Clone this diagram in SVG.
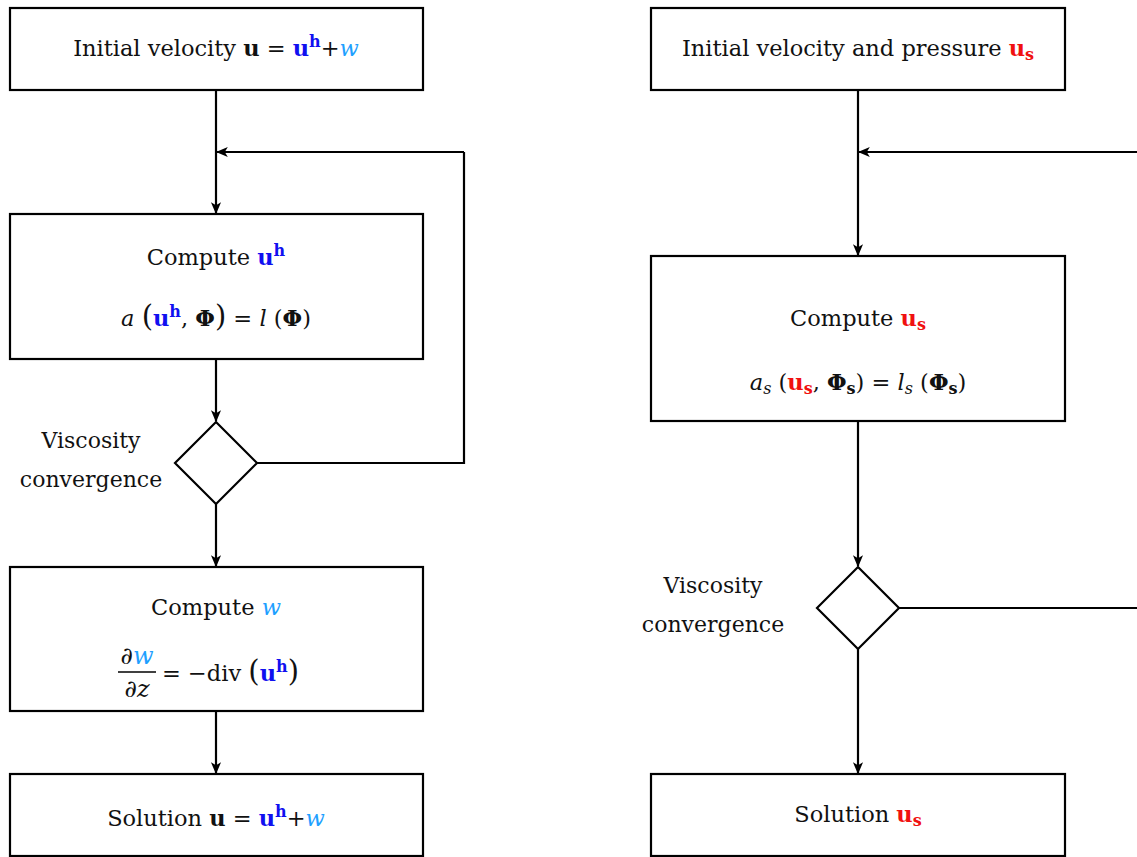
<svg xmlns="http://www.w3.org/2000/svg" width="1137" height="857" viewBox="0 0 1137 857" font-family="'DejaVu Serif', serif">
<defs>
<marker id="arr" viewBox="0 0 10 10" refX="9" refY="5" markerWidth="12" markerHeight="12" markerUnits="userSpaceOnUse" orient="auto">
<path d="M0,0.8 L10,5 L0,9.2 L2.5,5 Z" fill="#000"/>
</marker>
<style>
.box{fill:#fff;stroke:#000;stroke-width:2.2}
.dia{fill:#fff;stroke:#000;stroke-width:2.2}
.ln{fill:none;stroke:#000;stroke-width:2.2}
.ar{fill:none;stroke:#000;stroke-width:2.2;marker-end:url(#arr)}
text{font-family:'DejaVu Serif',serif;font-size:22.5px;fill:#111}
.lab{font-size:22px}
.b{font-weight:bold}
.i{font-style:italic}
.blue{fill:#1010f0}
.lb{fill:#1ea0ff}
.red{fill:#f01010}
.sm{font-size:16px}
.big{font-size:29px}
.fr{font-size:24px}
</style>
</defs>
<rect width="1137" height="857" fill="#fff"/>
<g id="connectors">
<path class="ar" d="M216,90 V213"/>
<path class="ar" d="M216,359 V421"/>
<path class="ar" d="M216,504 V566"/>
<path class="ar" d="M216,711 V773"/>
<path class="ln" d="M257,463 H464 V152"/>
<path class="ar" d="M464,152 H217"/>
<path class="ar" d="M858,90 V255"/>
<path class="ar" d="M858,421 V566"/>
<path class="ar" d="M858,649 V773"/>
<path class="ln" d="M899,608 H1140"/>
<path class="ar" d="M1140,152 H859"/>
</g>
<g id="l-init">
<rect class="box" x="10" y="8" width="413" height="82"/>
<text x="216" y="56" text-anchor="middle">Initial velocity <tspan class="b">u</tspan> = <tspan class="b blue">u</tspan><tspan class="b blue sm" dy="-9">h</tspan><tspan dy="9">+</tspan><tspan class="i lb">w</tspan></text>
</g>
<g id="l-compute-uh">
<rect class="box" x="10" y="214" width="413" height="145"/>
<text x="216" y="265" text-anchor="middle">Compute <tspan class="b blue">u</tspan><tspan class="b blue sm" dy="-9">h</tspan></text>
<text x="216" y="326" text-anchor="middle"><tspan class="i">a</tspan> <tspan class="big">(</tspan><tspan class="b blue">u</tspan><tspan class="b blue sm" dy="-9">h</tspan><tspan dy="9">, </tspan><tspan class="b">Φ</tspan><tspan class="big">)</tspan> = <tspan class="i">l</tspan> (<tspan class="b">Φ</tspan>)</text>
</g>
<g id="l-visc">
<polygon class="dia" points="216,422 257,463 216,504 175,463"/>
<text class="lab" x="91" y="448" text-anchor="middle">Viscosity</text>
<text class="lab" x="91" y="487" text-anchor="middle">convergence</text>
</g>
<g id="l-compute-w">
<rect class="box" x="10" y="567" width="413" height="144"/>
<text x="216" y="615" text-anchor="middle">Compute <tspan class="i lb">w</tspan></text>
<text class="fr" x="137" y="664" text-anchor="middle">∂<tspan class="i lb">w</tspan></text>
<path class="ln" d="M118,672 H156" style="stroke-width:1.3"/>
<text class="fr" x="137" y="697" text-anchor="middle">∂<tspan class="i">z</tspan></text>
<text x="162" y="681">= −div <tspan class="big">(</tspan><tspan class="b blue">u</tspan><tspan class="b blue sm" dy="-9">h</tspan><tspan class="big" dy="9">)</tspan></text>
</g>
<g id="l-solution">
<rect class="box" x="10" y="774" width="413" height="82"/>
<text x="216" y="826" text-anchor="middle">Solution <tspan class="b">u</tspan> = <tspan class="b blue">u</tspan><tspan class="b blue sm" dy="-9">h</tspan><tspan dy="9">+</tspan><tspan class="i lb">w</tspan></text>
</g>
<g id="r-init">
<rect class="box" x="651" y="8" width="414" height="82"/>
<text x="858" y="56" text-anchor="middle">Initial velocity and pressure <tspan class="b red">u</tspan><tspan class="b red sm" dy="4">s</tspan></text>
</g>
<g id="r-compute">
<rect class="box" x="651" y="256" width="414" height="165"/>
<text x="858" y="326" text-anchor="middle">Compute <tspan class="b red">u</tspan><tspan class="b red sm" dy="4">s</tspan></text>
<text x="858" y="390" text-anchor="middle"><tspan class="i">a</tspan><tspan class="i sm" dy="4">s</tspan><tspan dy="-4"> (</tspan><tspan class="b red">u</tspan><tspan class="b red sm" dy="4">s</tspan><tspan dy="-4">, </tspan><tspan class="b">Φ</tspan><tspan class="b sm" dy="4">s</tspan><tspan dy="-4">) = </tspan><tspan class="i">l</tspan><tspan class="i sm" dy="4">s</tspan><tspan dy="-4"> (</tspan><tspan class="b">Φ</tspan><tspan class="b sm" dy="4">s</tspan><tspan dy="-4">)</tspan></text>
</g>
<g id="r-visc">
<polygon class="dia" points="858,567 899,608 858,649 817,608"/>
<text class="lab" x="713" y="593" text-anchor="middle">Viscosity</text>
<text class="lab" x="713" y="632" text-anchor="middle">convergence</text>
</g>
<g id="r-solution">
<rect class="box" x="651" y="774" width="414" height="82"/>
<text x="858" y="822" text-anchor="middle">Solution <tspan class="b red">u</tspan><tspan class="b red sm" dy="4">s</tspan></text>
</g>
</svg>
